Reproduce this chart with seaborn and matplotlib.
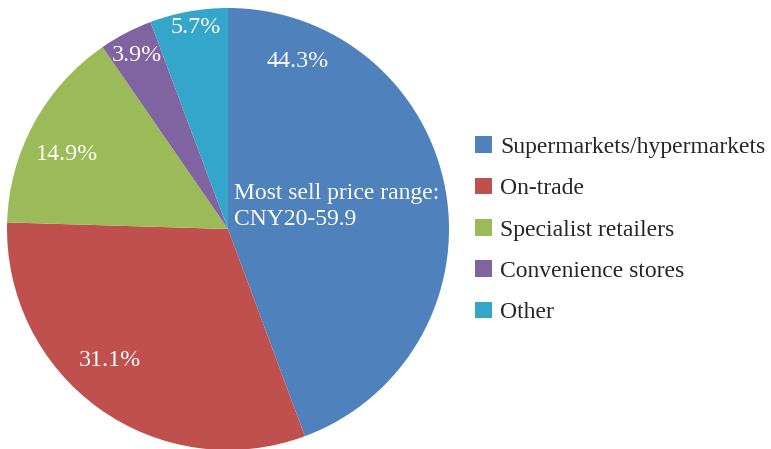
import matplotlib
matplotlib.use('Agg')
import matplotlib.pyplot as plt
import seaborn as sns

# Distribution channel shares (%)
channels = ['Supermarkets/hypermarkets', 'On-trade', 'Specialist retailers',
            'Convenience stores', 'Other']
shares = [44.3, 31.1, 14.9, 3.9, 5.7]
colors = ['#4F81BD', '#C0504D', '#9BBB59', '#8064A2', '#33A6CA']

note = 'Most sell price range:\nCNY20-59.9'

# where each percentage label sits (pie units)
label_pos = [(0.317, 0.756), (-0.534, -0.593), (-0.729, 0.335),
             (-0.412, 0.783), (-0.145, 0.910)]

sns.set_theme(style='white')
plt.rcParams['font.family'] = ['Liberation Serif', 'DejaVu Serif']

fig = plt.figure(figsize=(7.71, 4.49), dpi=100)
ax = fig.add_axes([7 / 771, -1 / 449, 442 / 771, 442 / 449])

wedges, texts, autotexts = ax.pie(
    shares, colors=sns.color_palette(colors), startangle=90, counterclock=False,
    autopct='%.1f%%', radius=1, wedgeprops=dict(linewidth=0),
    textprops=dict(color='white', fontsize=17.3))

for t, (x, y) in zip(autotexts, label_pos):
    t.set_position((x, y))

ax.text(0.027, 0.10, note, color='white', fontsize=17, ha='left', va='center',
        linespacing=1.3)

ax.set_xlim(-1, 1)
ax.set_ylim(-1, 1)
ax.set_aspect('equal')

fig.legend(wedges, channels, loc='center left', bbox_to_anchor=(466 / 771, 0.488),
           frameon=False, fontsize=17, handlelength=0.7, handleheight=0.7,
           handletextpad=0.35, labelspacing=0.84, borderaxespad=0)

fig.savefig('out.png', dpi=100)
